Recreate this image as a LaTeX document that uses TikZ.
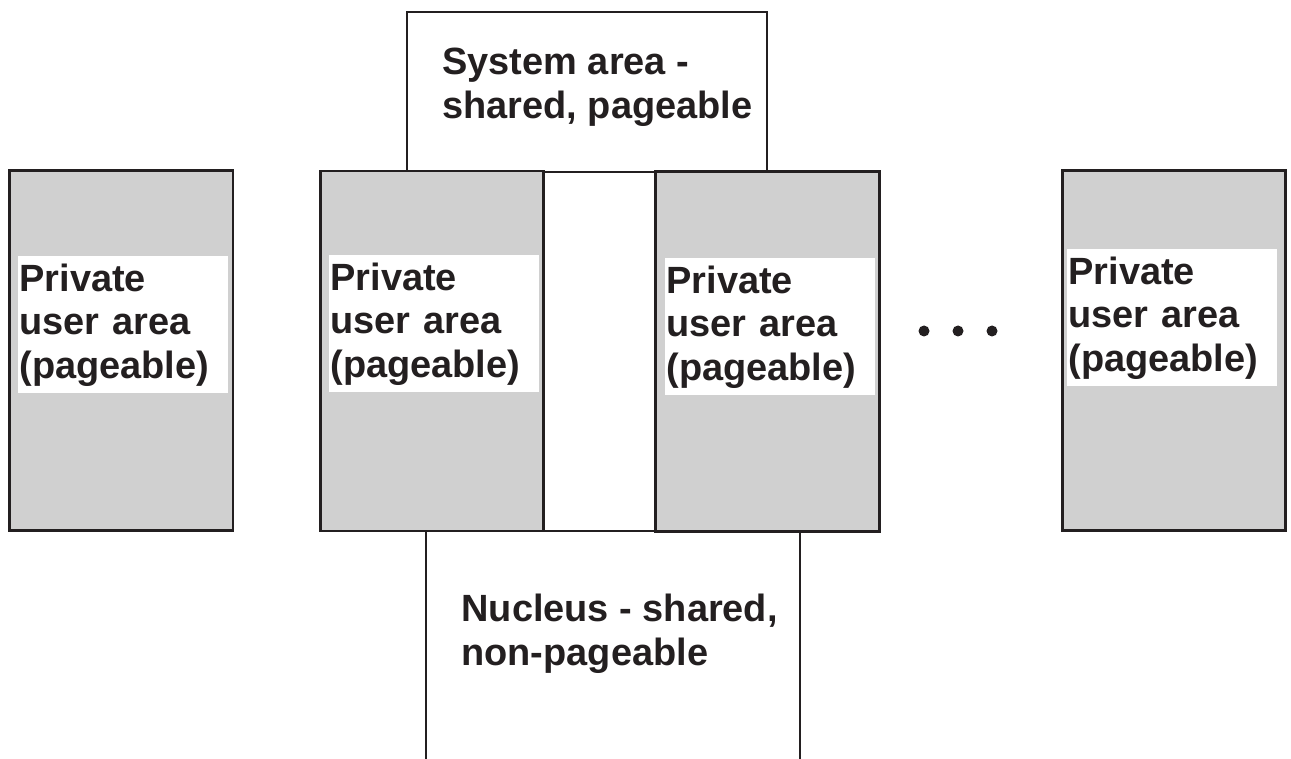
\documentclass[tikz,border=0pt]{standalone}
\usepackage{fontspec}
\setmainfont{Liberation Sans}
\usepackage{tikz}
\definecolor{ink}{HTML}{231F20}
\definecolor{shade}{HTML}{D0D0D0}
\tikzset{every node/.style={align=left}, font=\fontsize{21.6}{24.8}\selectfont\bfseries}
\tikzset{area/.style={draw, inner sep=0pt},
    pribox/.style={draw, fill=shade, minimum width=4.47cm, minimum height=7.2cm, inner sep=0pt},
    lbl/.style={fill=white, anchor=north west, text width=4.16cm, minimum height=2.74cm, inner xsep=0.02cm, inner ysep=0pt}}

\begin{document}
\begin{tikzpicture}[x=0.02cm, y=-0.02cm, line width=1.6pt, color=ink]
            \useasboundingbox (0,0) rectangle (1291,759);
            \clip (0,0) rectangle (1291,759);
            \node[area, minimum width=7.2cm, minimum height=3.2cm] (sys) at (587,92) {};
            \node[area, minimum width=7.48cm, minimum height=5.38cm] (nuc) at (613,665.5) {};
            \node[pribox] (p1) at (121.25,350.5) {};
            \node[pribox] (p2) at (432,351) {};
            \node[pribox] (p3) at (767.5,351.5) {};
            \node[pribox] (p4) at (1174,350.5) {};
            \node[lbl] (t1) at (17,255) {Private\\user area\\(pageable)};
            \node[lbl] (t2) at (328,254) {Private\\user area\\(pageable)};
            \node[lbl] (t3) at (664,257) {Private\\user area\\(pageable)};
            \node[lbl] (t4) at (1066,248) {Private\\user area\\(pageable)};
            \node[anchor=north west, inner sep=0pt] (syslbl) at (441,47) {System area -\\shared, pageable};
            \node[anchor=north west, inner sep=0pt] (nuclbl) at (460,593) {Nucleus - shared,\\non-pageable};
            \foreach \x in {924,958,992}
                \fill (\x,331) circle (5.5);
        \end{tikzpicture}
\end{document}
